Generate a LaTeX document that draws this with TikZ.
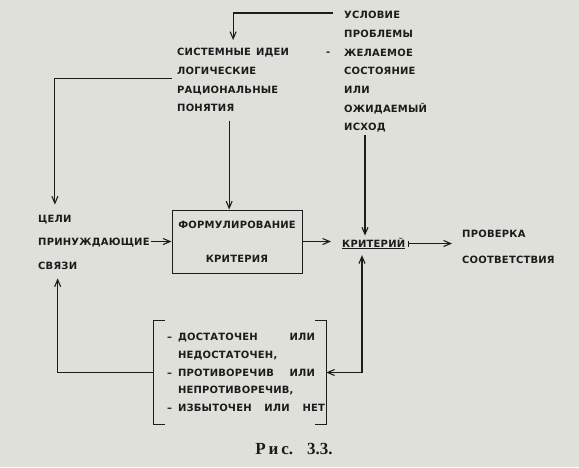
\documentclass[tikz,border=0pt]{standalone}
\usepackage{fontspec}
\newfontfamily\sysfont[LetterSpace=2]{DejaVu Sans}
\newfontfamily\capfont{Liberation Serif}
\usetikzlibrary{arrows.meta,positioning}
\definecolor{paper}{RGB}{224,224,219}
\definecolor{ink}{RGB}{28,28,28}

\begin{document}
\begin{tikzpicture}[x=1pt, y=-1pt,
    lbl/.style={inner sep=0pt, text=ink, font=\sysfont\bfseries\fontsize{10}{18.67}\selectfont},
    txt/.style={lbl, anchor=west, text height=7.3pt, text depth=0pt},
    blk/.style={lbl, anchor=north west, align=left},
    box/.style={lbl, draw=ink, line width=1pt, align=center, minimum width=130pt, minimum height=63pt},
    line/.style={draw=ink, line width=1.1pt},
    arr/.style={line, -{Straight Barb[length=7pt,width=6pt]}},
    dbl/.style={line, {Straight Barb[length=7pt,width=6pt]}-{Straight Barb[length=7pt,width=6pt]}}
  ]
    \fill[paper] (0,0) rectangle (579,467);
    % source texts
    \node[blk] (cond) at (344,11.35) {УСЛОВИЕ\\ПРОБЛЕМЫ\\ЖЕЛАЕМОЕ\\СОСТОЯНИЕ\\ИЛИ\\ОЖИДАЕМЫЙ\\ИСХОД};
    \node[txt] (dash) at (326,52) {-};
    \node[blk] (ideas) at (177,48.35) {СИСТЕМНЫЕ\enspace ИДЕИ\\ЛОГИЧЕСКИЕ\\РАЦИОНАЛЬНЫЕ\\ПОНЯТИЯ};
    \node[txt] (goalA) at (38,218.5) {ЦЕЛИ};
    \node[txt] (goalB) at (38,241.5) {ПРИНУЖДАЮЩИЕ};
    \node[txt] (goalC) at (38,265.5) {СВЯЗИ};
    % main chain
    \node[box] (form) at (237,241.5) {ФОРМУЛИРОВАНИЕ\\[15.3pt]КРИТЕРИЯ};
    \node[txt] (crit) at (342,243.5) {\underline{КРИТЕРИЙ}};
    \node[blk] (check) at (462,229.85) {ПРОВЕРКА\\[7.3pt]СООТВЕТСТВИЯ};
    \node[lbl, align=left, text width=146pt, inner xsep=13pt, inner ysep=12.35pt,
          font=\sysfont\bfseries\fontsize{10}{17.75}\selectfont] (list) at (240,372.5)
      {\makebox[11pt][l]{–}\makebox[137pt][s]{ДОСТАТОЧЕН\hfil ИЛИ}\\
       \hspace*{11pt}НЕДОСТАТОЧЕН,\\
       \makebox[11pt][l]{–}\makebox[137pt][s]{ПРОТИВОРЕЧИВ\hfil ИЛИ}\\
       \hspace*{11pt}НЕПРОТИВОРЕЧИВ,\\
       \makebox[11pt][l]{–}\makebox[147pt][s]{ИЗБЫТОЧЕН\hfil ИЛИ\hfil НЕТ}};
    \node[text=ink, inner sep=0pt, font=\capfont\bfseries\fontsize{17}{17}\selectfont] (cap) at (294,449)
      {Р\hspace{3pt}и\hspace{3pt}с.\hspace{14pt}3.3.};
    % brackets round the list
    \draw[line] ([xshift=11pt]list.north west) -- (list.north west) -- (list.south west) -- ([xshift=11pt]list.south west);
    \draw[line] ([xshift=-11pt]list.north east) -- (list.north east) -- (list.south east) -- ([xshift=-11pt]list.south east);
    % connectors
    \draw[arr, shorten >=8.3pt] ([xshift=-11pt,yshift=-1.6pt]cond.north west) -| (ideas.north);
    \draw[arr, shorten >=10pt] ([xshift=-5pt,yshift=2pt]ideas.west) -| (goalA.north);
    \draw[arr, shorten <=8.3pt] ([xshift=-4pt]ideas.south) -- ([xshift=-4pt]ideas.south |- form.north);
    \draw[arr, shorten <=1pt] (goalB.east) -- (goalB.east -| form.west);
    \draw[arr, shorten >=11pt] (form.east) -- (form.east -| crit.west);
    \draw[arr, shorten <=2.3pt, shorten >=4pt] ([xshift=21pt]cond.south west) -- ([xshift=21pt]cond.south west |- crit.north);
    \draw[line, {Bar[width=6pt]}-{Straight Barb[length=7pt,width=6pt]}, shorten <=3pt, shorten >=10pt] (crit.east) -- (crit.east -| check.west);
    \draw[dbl, shorten >=7.8pt] (list.east) -| ([xshift=18pt]cond.south west |- crit.south);
    \draw[arr, shorten >=9pt] (list.west) -| (goalC.south);
\end{tikzpicture}
\end{document}
